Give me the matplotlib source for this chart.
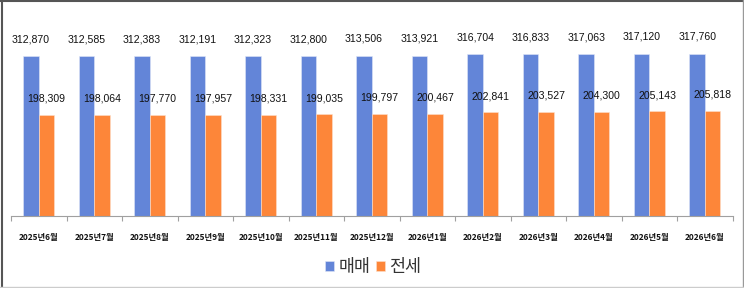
import matplotlib
matplotlib.use("Agg")
import matplotlib.pyplot as plt
import numpy as np

categories = ["2025년6월", "2025년7월", "2025년8월", "2025년9월", "2025년10월", "2025년11월",
              "2025년12월", "2026년1월", "2026년2월", "2026년3월", "2026년4월", "2026년5월", "2026년6월"]
sale = [312870, 312585, 312383, 312191, 312323, 312800, 313506, 313921, 316704, 316833, 317063, 317120, 317760]
jeonse = [198309, 198064, 197770, 197957, 198331, 199035, 199797, 200467, 202841, 203527, 204300, 205143, 205818]
series_names = ["매매", "전세"]

plt.rcParams['font.family'] = ['Noto Sans CJK KR', 'DejaVu Sans']

W, H = 744, 288
fig = plt.figure(figsize=(W/100, H/100), dpi=100)
ax = fig.add_axes([11/W, (H-216)/H, (732.7-11)/W, (216-20)/H])

blue = "#6385d8"
orange = "#fd8639"
x = np.arange(len(categories))
bw = 0.28
b1 = ax.bar(x - bw/2, sale, bw, color=blue, edgecolor="#dfe6f7", linewidth=0.4, label=series_names[0])
b2 = ax.bar(x + bw/2, jeonse, bw, color=orange, edgecolor="#fde0cc", linewidth=0.4, label=series_names[1])

for rect, v in zip(b1, sale):
    ax.annotate(f"{v:,}", (rect.get_x() + rect.get_width()/2, v), xytext=(0, 12.2),
                textcoords="offset points", ha="center", va="center",
                fontsize=7.6, family=['Liberation Sans', 'DejaVu Sans'], color="#111111")
for rect, v in zip(b2, jeonse):
    ax.annotate(f"{v:,}", (rect.get_x() + rect.get_width()/2, v), xytext=(0, 11.6),
                textcoords="offset points", ha="center", va="center",
                fontsize=7.6, family=['Liberation Sans', 'DejaVu Sans'], color="#111111")

ax.set_xlim(-0.5, len(categories) - 0.5)
ax.set_ylim(0, 383500)
ax.set_yticks([])
ax.set_xticks(x)
ax.set_xticklabels(categories, fontsize=6, fontweight='semibold', color="#111111")
ax.tick_params(axis='x', which='major', length=0, pad=12.5)
ax.set_xticks(np.arange(-0.5, len(categories)), minor=True)
ax.tick_params(axis='x', which='minor', length=3.5, color="#a0a0a0", width=0.8)
for s in ['top', 'right', 'left']:
    ax.spines[s].set_visible(False)
ax.spines['bottom'].set_color("#a0a0a0")
ax.spines['bottom'].set_linewidth(0.8)

leg = fig.legend(handles=[b1, b2], labels=series_names, loc='center', bbox_to_anchor=(373/W, (H-267)/H),
                 ncol=2, frameon=False, fontsize=12.5, handlelength=0.55, handleheight=0.55,
                 handletextpad=0.25, columnspacing=0.3, borderaxespad=0, borderpad=0)
for t in leg.get_texts():
    t.set_color("#333333")

# figure border
fig.add_artist(plt.Line2D([1.5/W, 1.5/W], [0, 1], transform=fig.transFigure, color="#555555", lw=1.5))
fig.add_artist(plt.Line2D([0, 1], [1 - 1/H, 1 - 1/H], transform=fig.transFigure, color="#555555", lw=1.5))
fig.add_artist(plt.Line2D([742.5/W, 742.5/W], [0, 1], transform=fig.transFigure, color="#999999", lw=1))
fig.add_artist(plt.Line2D([0, 1], [1.5/H, 1.5/H], transform=fig.transFigure, color="#cccccc", lw=1))

fig.savefig("out.png", dpi=100)
